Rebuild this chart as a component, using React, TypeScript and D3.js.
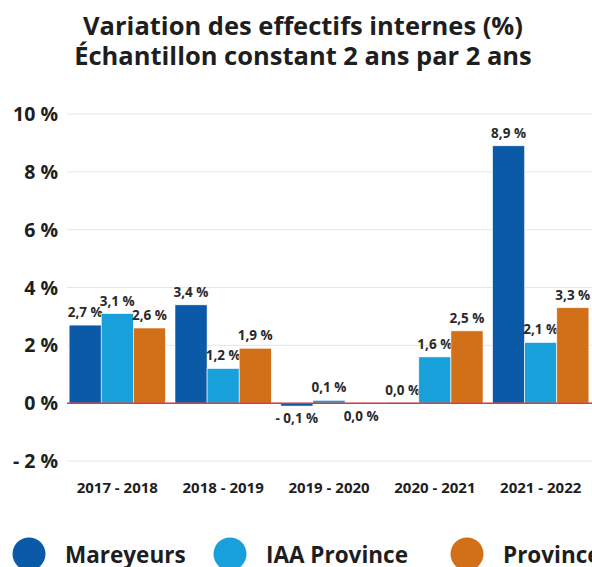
import * as d3 from "d3";

const categories = ["2017 - 2018", "2018 - 2019", "2019 - 2020", "2020 - 2021", "2021 - 2022"];
const seriesNames = ["Mareyeurs", "IAA Province", "Province"];
const mareyeurs = [2.7, 3.4, -0.1, 0.02, 8.9];
const iaaProvince = [3.1, 1.2, 0.1, 1.6, 2.1];
const province = [2.6, 1.9, -0.02, 2.5, 3.3];
const yTicks = [-2, 0, 2, 4, 6, 8, 10];
const colors = ["#0a5aa8", "#18a0db", "#d2701a"];

const W = 592;
const H = 567;
const font = "'Open Sans', 'Noto Sans', sans-serif";

function fmt(v: number) {
  const r = Math.round(v * 10) / 10;
  if (Math.abs(r) < 0.05) return "0,0 %";
  const s = Math.abs(r).toFixed(1).replace(".", ",");
  return (r < 0 ? "- " : "") + s + " %";
}

export default function App() {
  const series = [mareyeurs, iaaProvince, province];
  const x = d3.scaleBand<string>().domain(categories).range([67, 591]).paddingInner(0.09).paddingOuter(0.02);
  const x1 = d3.scaleBand<string>().domain(seriesNames).range([0, x.bandwidth()]);
  const y = d3.scaleLinear().domain([-2, 10]).range([461, 114]);

  return (
    <svg width={W} height={H} style={{ position: "absolute", left: 0, top: 0, fontFamily: font }}>
      <rect width={W} height={H} fill="#fff" />
      <text x={303} y={35} textAnchor="middle" fontSize={25.5} fontWeight={700} fill="#1e1e1e">
        Variation des effectifs internes (%)
      </text>
      <text x={303} y={65} textAnchor="middle" fontSize={25.5} fontWeight={700} fill="#1e1e1e">
        Échantillon constant 2 ans par 2 ans
      </text>
      {yTicks.map((t) => (
        <g key={t}>
          <line x1={67} x2={W} y1={y(t)} y2={y(t)} stroke="#e6e6e6" strokeWidth={1} />
          <text x={58} y={y(t) + 7} textAnchor="end" fontSize={19.5} fontWeight={700} fill="#1e1e1e">
            {(t < 0 ? "- " + Math.abs(t) : t) + " %"}
          </text>
        </g>
      ))}
      {categories.map((c, i) => (
        <g key={c}>
          {series.map((vals, s) => {
            const v = vals[i];
            const bx = (x(c) ?? 0) + (x1(seriesNames[s]) ?? 0);
            const top = y(Math.max(0, v));
            const h = Math.max(Math.abs(y(v) - y(0)), 0.8);
            const neg = v < 0;
            return (
              <g key={s}>
                <rect x={bx} y={top} width={x1.bandwidth()} height={h} fill={colors[s]} stroke="#fff" strokeWidth={0.6} />
                <text
                  x={bx + x1.bandwidth() / 2}
                  y={neg ? y(v) + 17 : y(v) - 8}
                  textAnchor="middle"
                  fontSize={13.5}
                  fontWeight={700}
                  fill="#2a2a2a"
                >
                  {fmt(v)}
                </text>
              </g>
            );
          })}
          <text x={(x(c) ?? 0) + x.bandwidth() / 2} y={493} textAnchor="middle" fontSize={15} fontWeight={700} fill="#1e1e1e">
            {c}
          </text>
        </g>
      ))}
      <line x1={67} x2={W} y1={y(0)} y2={y(0)} stroke="#d63a3a" strokeWidth={1.5} />
      {seriesNames.map((n, s) => {
        const lx = [29, 230, 467][s];
        return (
          <g key={n}>
            <circle cx={lx} cy={554} r={16.5} fill={colors[s]} />
            <text x={lx + 36} y={563} fontSize={22.5} fontWeight={700} fill="#1e1e1e">
              {n}
            </text>
          </g>
        );
      })}
    </svg>
  );
}
